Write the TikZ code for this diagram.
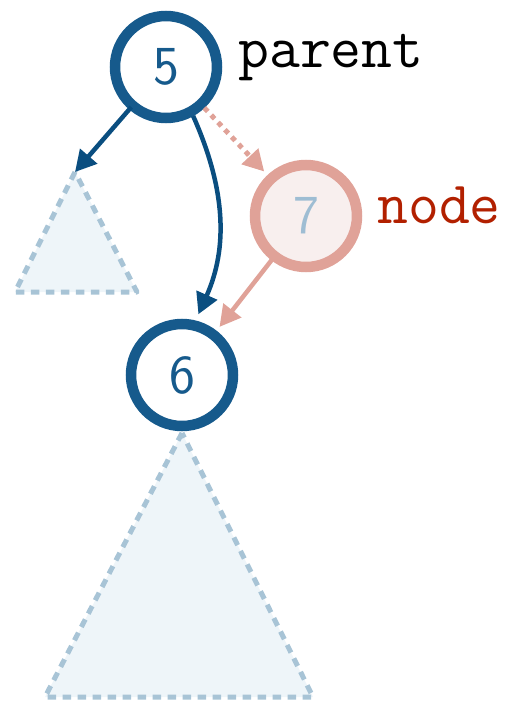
\documentclass[tikz,border=0pt]{standalone}
\usetikzlibrary{arrows.meta}
\definecolor{ringblue}{RGB}{22,90,140}
\definecolor{arrowblue}{RGB}{10,78,128}
\definecolor{ringpink}{RGB}{224,162,152}
\definecolor{fillpink}{RGB}{248,239,238}
\definecolor{softblue}{RGB}{158,189,211}
\definecolor{treeedge}{RGB}{168,196,214}
\definecolor{treefill}{RGB}{238,245,249}
\definecolor{labelred}{RGB}{178,32,0}
\begin{document}
\begin{tikzpicture}[x=1pt,y=-1pt,
  keynode/.style={circle, line width=10.5pt, minimum size=102pt, inner sep=0pt,
    outer sep=5pt, font=\sffamily\fontsize{55}{55}\selectfont},
  bluekey/.style={keynode, draw=ringblue, fill=white, text=ringblue},
  pinkkey/.style={keynode, draw=ringpink, fill=fillpink, text=softblue},
  subtree/.style={draw=treeedge, fill=treefill, line width=5pt,
    dash pattern=on 8.5pt off 6.5pt, line join=round},
  tag/.style={anchor=base west, inner sep=0pt, font=\ttfamily\fontsize{60}{60}\selectfont},
  tip/.style={-{Triangle[length=21pt,width=22pt]}},
  bluelink/.style={tip, draw=arrowblue, line width=4.5pt},
  pinklink/.style={tip, draw=ringpink, line width=4.5pt},
]
\useasboundingbox (0,0) rectangle (507,702);

% subtrees hanging below the nodes
\coordinate (la) at (75,172);
\coordinate (ll) at (15,292);
\coordinate (lr) at (137,292);
\coordinate (ba) at (182,433);
\coordinate (bl) at (45,697);
\coordinate (br) at (313,697);
\draw[subtree] (la) -- (ll) -- (lr) -- cycle;
\draw[subtree] (ba) -- (bl) -- (br) -- cycle;

% keys
\node[bluekey] (n5) at (166,67) {5};
\node[pinkkey] (n7) at (306,216) {7};
\node[bluekey] (n6) at (182,375) {6};

% labels
\node[tag, text=black] (lp) at (238,67) {parent};
\node[tag, text=labelred] (ln) at (377,223) {node};

% links
\draw[bluelink, shorten <=-3pt] (n5) -- (la);
\draw[bluelink, shorten >=7pt] (n5.-61) to[out=-66, in=66] (n6.76);
\draw[pinklink, line width=5pt, dash pattern=on 5pt off 5pt, shorten >=5pt] (n5) -- (n7);
\draw[pinklink, solid, shorten <=-2pt, shorten >=5pt] (n7) -- (n6);
\end{tikzpicture}
\end{document}
